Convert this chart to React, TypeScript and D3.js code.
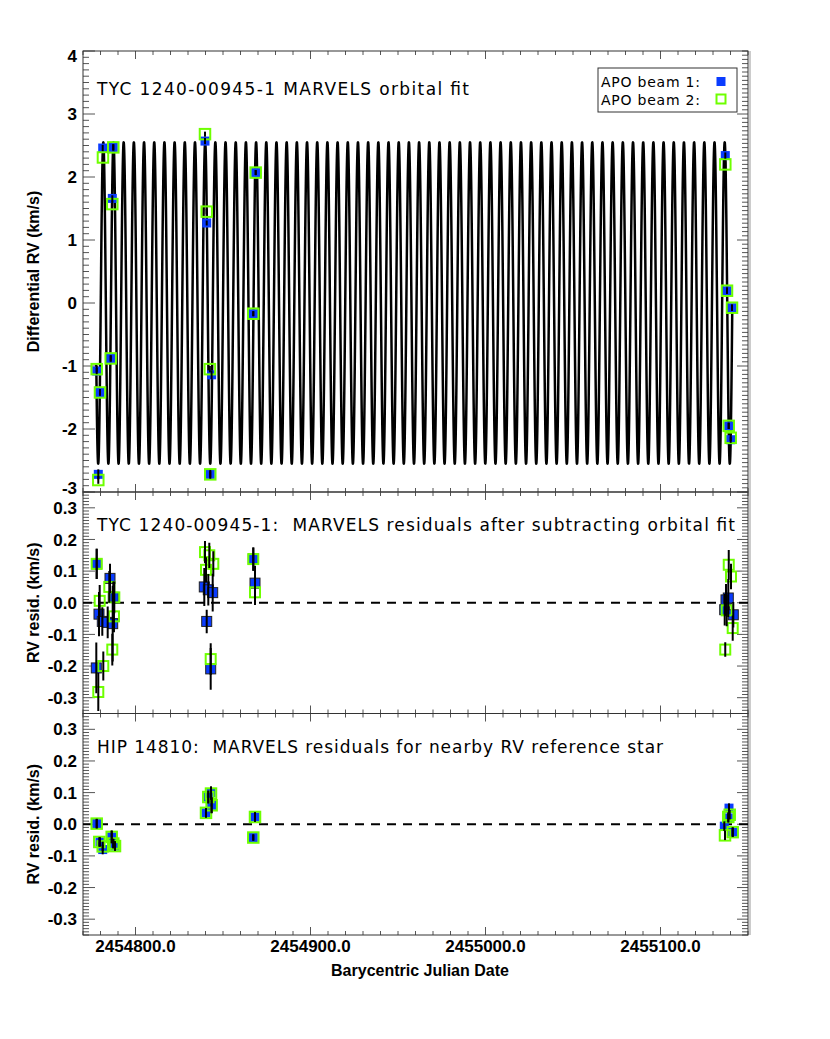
import React, { useEffect, useRef } from 'react';
import * as d3 from 'd3';

const W = 830;
const H = 1039;

// ---- X axis (Barycentric Julian Date) ----
const bjdMin = 2454770;
const bjdMax = 2455150;
const bjdBase = 2454000; // dates below are BJD - 2454000
const xMajorTicks = [2454800, 2454900, 2455000, 2455100];
const xTickLabels = ['2454800.0', '2454900.0', '2455000.0', '2455100.0'];
const xMinorStep = 10;

// ---- Orbital fit (model) ----
const fitPeriod = 5.821; // days
const fitK = 2.55; // km/s
const fitTpeak = 2454781.6;
const fitGamma = 0;
const fitStart = 2454777.6;
const fitEnd = 2455141.0;

// ---- Top panel: differential RV (km/s) ----
const rvB1Date = [777.83, 778.74, 779.71, 781.26, 785.83, 786.74, 787.31, 839.71, 840.69, 843.5, 842.72, 867.31, 868.69, 1137.03, 1138.0, 1138.97, 1140.11, 1140.86];
const rvB1 = [-1.08, -2.72, -1.42, 2.46, -0.88, 1.66, 2.47, 2.57, 1.27, -1.14, -2.72, -0.17, 2.07, 2.34, 0.195, -1.95, -2.17, -0.075];
const rvB1Err = [0.05, 0.08, 0.05, 0.05, 0.05, 0.05, 0.05, 0.05, 0.04, 0.07, 0.07, 0.04, 0.04, 0.05, 0.05, 0.05, 0.05, 0.05];
const rvB2Date = [777.83, 778.74, 779.71, 781.4, 785.83, 786.74, 787.31, 839.71, 840.69, 842.5, 842.72, 867.31, 868.69, 1137.03, 1138.0, 1138.97, 1140.11, 1140.86];
const rvB2 = [-1.05, -2.81, -1.42, 2.31, -0.88, 1.57, 2.47, 2.68, 1.45, -1.05, -2.72, -0.17, 2.07, 2.2, 0.195, -1.95, -2.14, -0.075];
const rvB2Err = [0.05, 0.06, 0.05, 0.05, 0.05, 0.05, 0.05, 0.04, 0.04, 0.05, 0.05, 0.04, 0.04, 0.05, 0.05, 0.05, 0.05, 0.05];

// ---- Middle panel: TYC residuals (km/s) ----
const resB1Date = [777.83, 777.6, 779.14, 781.03, 784.11, 785.43, 787.31, 786.97, 839.31, 841.6, 844.11, 840.69, 842.97, 867.31, 868.29, 1136.69, 1137.43, 1138.74, 1141.6];
const resB1 = [0.123, -0.206, -0.036, -0.059, -0.062, 0.077, 0.017, -0.066, 0.05, 0.041, 0.032, -0.059, -0.209, 0.138, 0.062, -0.022, 0.009, 0.015, -0.038];
const resB1Err = [0.048, 0.08, 0.07, 0.045, 0.05, 0.046, 0.05, 0.12, 0.06, 0.05, 0.06, 0.037, 0.066, 0.037, 0.055, 0.05, 0.05, 0.06, 0.04];
const resB2Date = [777.83, 778.74, 779.54, 781.6, 785.03, 787.89, 787.7, 786.74, 839.71, 842.17, 844.46, 840.29, 842.97, 867.31, 868.29, 1137.0, 1137.83, 1139.0, 1140.29, 1141.26];
const resB2 = [0.123, -0.282, 0.006, -0.2, 0.05, 0.017, -0.043, -0.148, 0.16, 0.15, 0.123, 0.104, -0.178, 0.138, 0.033, -0.148, -0.024, 0.12, 0.083, -0.08];
const resB2Err = [0.048, 0.06, 0.05, 0.046, 0.05, 0.05, 0.05, 0.05, 0.035, 0.04, 0.04, 0.04, 0.05, 0.037, 0.04, 0.023, 0.05, 0.047, 0.04, 0.04];

// ---- Bottom panel: HIP 14810 residuals (km/s) ----
const refB1Date = [777.83, 779.71, 781.26, 786.4, 787.31, 788.29, 840.29, 841.6, 843.14, 843.5, 867.31, 868.29, 1136.46, 1139.14, 1138.74, 1141.26];
const refB1 = [0.002, -0.056, -0.08, -0.04, -0.061, -0.069, 0.036, 0.086, 0.1, 0.06, -0.042, 0.023, -0.006, 0.051, 0.02, -0.025];
const refB1Err = [0.015, 0.015, 0.015, 0.02, 0.015, 0.015, 0.015, 0.02, 0.02, 0.025, 0.01, 0.015, 0.015, 0.015, 0.015, 0.015];
const refB2Date = [777.83, 779.31, 781.26, 786.4, 787.31, 788.29, 840.29, 841.6, 843.14, 843.5, 867.31, 868.29, 1136.86, 1138.74, 1139.54, 1141.26];
const refB2 = [0.002, -0.056, -0.07, -0.04, -0.061, -0.069, 0.036, 0.086, 0.097, 0.06, -0.042, 0.023, -0.035, 0.023, 0.03, -0.025];
const refB2Err = [0.015, 0.015, 0.015, 0.02, 0.015, 0.015, 0.015, 0.02, 0.02, 0.025, 0.01, 0.015, 0.015, 0.015, 0.015, 0.015];

// ---- Y tick labels ----
const topYTicks = [-3, -2, -1, 0, 1, 2, 3, 4];
const resYTicks = [-0.3, -0.2, -0.1, 0.0, 0.1, 0.2, 0.3];

// ---- Text ----
const titles = [
  'TYC 1240-00945-1 MARVELS orbital fit',
  'TYC 1240-00945-1:  MARVELS residuals after subtracting orbital fit',
  'HIP 14810:  MARVELS residuals for nearby RV reference star',
];
const yTitles = ['Differential RV (km/s)', 'RV resid. (km/s)', 'RV resid. (km/s)'];
const xTitle = 'Barycentric Julian Date';
const legendLabels = ['APO beam 1:', 'APO beam 2:'];

const BLUE = '#0a3cff';
const GREEN = '#6eff00';
const FONT = "'Liberation Sans', Arial, Helvetica, sans-serif";
const TFONT = "'DejaVu Sans', 'Liberation Sans', sans-serif";

const fmtTick = (v: number) => (Math.abs(v) < 1e-9 ? '0.0' : v.toFixed(1));

function draw(svg: d3.Selection<SVGSVGElement, unknown, null, undefined>) {
  const X0 = 83;
  const X1 = 748;
  const x = d3.scaleLinear().domain([bjdMin, bjdMax]).range([X0, X1]);

  const panels = [
    { top: 51, bottom: 492, domain: [-3, 4], leftMinor: 0.1, leftMajor: 1, rightMinor: 1 / 15, rightMajor: 2, rightMajorStart: -3, labels: topYTicks.map(String), ticks: topYTicks, titleY: 95, textLen: 372 },
    { top: 492, bottom: 713.5, domain: [-0.35, 0.35], leftMinor: 0.01, leftMajor: 0.1, rightMinor: 0.01, rightMajor: 0.1, rightMajorStart: -0.3, labels: resYTicks.map(fmtTick), ticks: resYTicks, titleY: 531, textLen: 638 },
    { top: 713.5, bottom: 935, domain: [-0.35, 0.35], leftMinor: 0.01, leftMajor: 0.1, rightMinor: 0.01, rightMajor: 0.1, rightMajorStart: -0.3, labels: resYTicks.map(fmtTick), ticks: resYTicks, titleY: 752.5, textLen: 566 },
  ];

  svg.append('rect').attr('x', 0).attr('y', 0).attr('width', W).attr('height', H).attr('fill', '#fff');

  const datasets = [
    { b1: { d: rvB1Date, v: rvB1, e: rvB1Err }, b2: { d: rvB2Date, v: rvB2, e: rvB2Err } },
    { b1: { d: resB1Date, v: resB1, e: resB1Err }, b2: { d: resB2Date, v: resB2, e: resB2Err } },
    { b1: { d: refB1Date, v: refB1, e: refB1Err }, b2: { d: refB2Date, v: refB2, e: refB2Err } },
  ];

  panels.forEach((p, pi) => {
    const y = d3.scaleLinear().domain(p.domain).range([p.bottom, p.top]);
    const g = svg.append('g');
    const tickColor = '#555';

    // x ticks (bottom and top)
    const nMinor = Math.round((bjdMax - bjdMin) / xMinorStep);
    d3.range(nMinor + 1).forEach((i) => {
      const t = bjdMin + i * xMinorStep;
      const major = xMajorTicks.includes(t);
      const len = major ? 8 : 4;
      const xx = x(t);
      g.append('line').attr('x1', xx).attr('x2', xx).attr('y1', p.bottom).attr('y2', p.bottom - len).attr('stroke', tickColor).attr('stroke-width', 1);
      g.append('line').attr('x1', xx).attr('x2', xx).attr('y1', p.top).attr('y2', p.top + len).attr('stroke', tickColor).attr('stroke-width', 1);
    });

    // left y ticks
    const [lo, hi] = p.domain;
    const nL = Math.round((hi - lo) / p.leftMinor);
    d3.range(nL + 1).forEach((i) => {
      const v = lo + i * p.leftMinor;
      const ratio = v / p.leftMajor;
      const major = Math.abs(ratio - Math.round(ratio)) < 1e-6;
      const len = major ? 12 : 6;
      const yy = y(v);
      g.append('line').attr('x1', X0).attr('x2', X0 + len).attr('y1', yy).attr('y2', yy).attr('stroke', tickColor).attr('stroke-width', 1);
    });
    // right y ticks
    const nR = Math.round((hi - lo) / p.rightMinor);
    d3.range(nR + 1).forEach((i) => {
      const v = lo + i * p.rightMinor;
      const ratio = (v - p.rightMajorStart) / p.rightMajor;
      const major = Math.abs(ratio - Math.round(ratio)) < 1e-6;
      const len = major ? 11 : 6;
      const yy = y(v);
      g.append('line').attr('x1', X1).attr('x2', X1 - len).attr('y1', yy).attr('y2', yy).attr('stroke', tickColor).attr('stroke-width', 1);
    });

    // frame
    g.append('rect').attr('x', X0).attr('y', p.top).attr('width', X1 - X0).attr('height', p.bottom - p.top)
      .attr('fill', 'none').attr('stroke', '#333').attr('stroke-width', 1);

    // y tick labels (labels sitting on a panel edge are nudged inward, as in the reference)
    p.ticks.forEach((v, i) => {
      const yy = y(v);
      let nudge = 0;
      if (Math.abs(yy - p.top) < 2) nudge = 5;
      else if (Math.abs(yy - p.bottom) < 2) nudge = -4;
      g.append('text').attr('x', 77).attr('y', yy + nudge).attr('dy', '0.36em').attr('text-anchor', 'end')
        .attr('font-family', FONT).attr('font-size', 17).attr('font-weight', 'bold').attr('fill', '#000').text(p.labels[i]);
    });

    // y title
    const cy = (p.top + p.bottom) / 2;
    g.append('text').attr('transform', `translate(39,${cy}) rotate(-90)`).attr('text-anchor', 'middle')
      .attr('font-family', FONT).attr('font-size', 16).attr('font-weight', 'bold').attr('fill', '#000').text(yTitles[pi]);

    // panel title
    g.append('text').attr('x', 97).attr('y', p.titleY).attr('font-family', TFONT).attr('font-size', 17)
      .attr('textLength', p.textLen).attr('lengthAdjust', 'spacing').attr('xml:space', 'preserve')
      .style('white-space', 'pre').attr('fill', '#000').text(titles[pi]);

    const clipId = `clip${pi}`;
    svg.append('clipPath').attr('id', clipId).append('rect').attr('x', X0).attr('y', p.top).attr('width', X1 - X0).attr('height', p.bottom - p.top);
    const inner = svg.append('g').attr('clip-path', `url(#${clipId})`);

    if (pi === 0) {
      // orbital fit curve
      const step = 0.01;
      const n = Math.round((fitEnd - fitStart) / step);
      const pts: [number, number][] = d3.range(n + 1).map((i) => {
        const t = fitStart + i * step;
        const v = fitGamma + fitK * Math.cos((2 * Math.PI * (t - fitTpeak)) / fitPeriod);
        return [t, v];
      });
      const line = d3.line<[number, number]>().x((d) => x(d[0])).y((d) => y(d[1]));
      inner.append('path').attr('d', line(pts) as string).attr('fill', 'none').attr('stroke', '#000')
        .attr('stroke-width', 2.5).attr('stroke-linejoin', 'round');
    } else {
      inner.append('line').attr('x1', X0).attr('x2', X1).attr('y1', y(0)).attr('y2', y(0))
        .attr('stroke', '#000').attr('stroke-width', 1.8).attr('stroke-dasharray', '9,7');
    }

    const ds = datasets[pi];
    const bs = pi === 1 ? 10 : 9;
    const gs = pi === 1 ? 10 : 10.5;
    // beam 1 filled squares
    ds.b1.d.forEach((d, i) => {
      const xx = x(bjdBase + d);
      const yy = y(ds.b1.v[i]);
      inner.append('rect').attr('x', xx - bs / 2).attr('y', yy - bs / 2).attr('width', bs).attr('height', bs)
        .attr('fill', BLUE).attr('stroke', pi === 1 ? '#222' : 'none').attr('stroke-width', pi === 1 ? 1 : 0);
    });
    // beam 2 open squares
    ds.b2.d.forEach((d, i) => {
      const xx = x(bjdBase + d);
      const yy = y(ds.b2.v[i]);
      inner.append('rect').attr('x', xx - gs / 2).attr('y', yy - gs / 2).attr('width', gs).attr('height', gs)
        .attr('fill', 'none').attr('stroke', GREEN).attr('stroke-width', 2);
    });
    // error bars
    [ds.b1, ds.b2].forEach((b) => {
      b.d.forEach((d, i) => {
        const xx = x(bjdBase + d);
        inner.append('line').attr('x1', xx).attr('x2', xx).attr('y1', y(b.v[i] - b.e[i])).attr('y2', y(b.v[i] + b.e[i]))
          .attr('stroke', '#000').attr('stroke-width', 2);
      });
    });

    if (pi === 2) {
      xMajorTicks.forEach((t, i) => {
        svg.append('text').attr('x', x(t)).attr('y', 952).attr('text-anchor', 'middle').attr('font-family', FONT)
          .attr('font-size', 17).attr('font-weight', 'bold').attr('fill', '#000').text(xTickLabels[i]);
      });
      svg.append('text').attr('x', 420).attr('y', 976).attr('text-anchor', 'middle').attr('font-family', FONT)
        .attr('font-size', 16).attr('font-weight', 'bold').attr('fill', '#000').text(xTitle);
    }
  });

  // outer right edge line
  svg.append('line').attr('x1', 750).attr('x2', 750).attr('y1', 51).attr('y2', 935).attr('stroke', '#999').attr('stroke-width', 1);

  // legend
  const lg = svg.append('g');
  lg.append('rect').attr('x', 598).attr('y', 68).attr('width', 139).attr('height', 44).attr('fill', '#fff').attr('stroke', '#333').attr('stroke-width', 1);
  lg.append('text').attr('x', 601).attr('y', 87).attr('font-family', TFONT).attr('font-size', 14).attr('textLength', 99).attr('lengthAdjust', 'spacing').text(legendLabels[0]);
  lg.append('text').attr('x', 601).attr('y', 105).attr('font-family', TFONT).attr('font-size', 14).attr('textLength', 99).attr('lengthAdjust', 'spacing').text(legendLabels[1]);
  lg.append('rect').attr('x', 716.5).attr('y', 77).attr('width', 9).attr('height', 9).attr('fill', BLUE);
  lg.append('rect').attr('x', 716.5).attr('y', 94.5).attr('width', 9).attr('height', 9).attr('fill', 'none').attr('stroke', GREEN).attr('stroke-width', 2);
}

export default function App() {
  const ref = useRef<SVGSVGElement>(null);
  useEffect(() => {
    if (!ref.current) return;
    const svg = d3.select(ref.current);
    svg.selectAll('*').remove();
    draw(svg as any);
  }, []);
  return (
    <svg ref={ref} width={W} height={H} style={{ position: 'absolute', left: 0, top: 0, background: '#fff' }} />
  );
}
